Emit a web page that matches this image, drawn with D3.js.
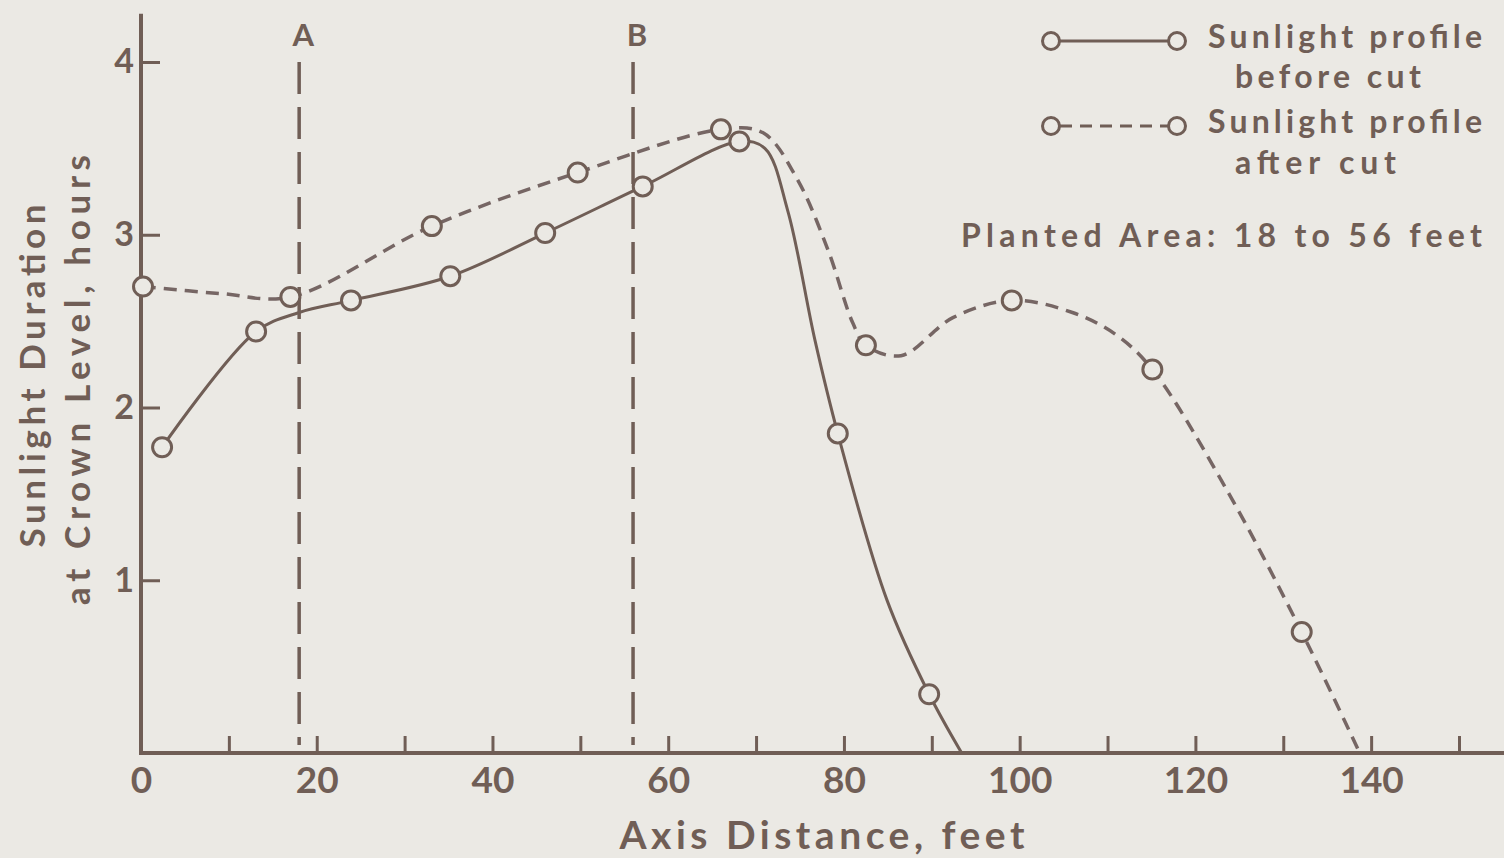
<!DOCTYPE html>
<html>
<head>
<meta charset="utf-8">
<script src="https://cdn.jsdelivr.net/npm/d3@7"></script>
<style>
  html, body { margin: 0; padding: 0; background: #ebe9e4; }
  svg { display: block; }
  text { font-family: Lato, "DejaVu Sans", sans-serif; font-weight: bold; fill: #705e56; }
</style>
</head>
<body>
<div id="chart"></div>
<script>
// values (feet, hours)
var xTickValues = [0, 10, 20, 30, 40, 50, 60, 70, 80, 90, 100, 110, 120, 130, 140, 150];
var xTickLabels = ["0", "", "20", "", "40", "", "60", "", "80", "", "100", "", "120", "", "140", ""];
var yTickValues = [1, 2, 3, 4];

// circles on the "before cut" profile
var beforeMarks = [[2.4, 1.77], [13.1, 2.44], [23.9, 2.62], [35.2, 2.76], [46.0, 3.01],
    [57.1, 3.28], [68.1, 3.54], [79.3, 1.85], [89.7, 0.34]];
// the drawn curve
var beforeCurve = [[2.4, 1.77], [13.1, 2.44], [18, 2.55], [23.9, 2.62], [35.2, 2.76], [46.0, 3.01],
    [57.1, 3.28], [68.1, 3.54], [71.0, 3.50], [73.6, 3.14], [76.7, 2.39], [79.3, 1.85],
    [84.9, 0.885], [89.7, 0.34], [93.4, 0]];

// circles on the "after cut" profile
var afterMarks = [[0.23, 2.70], [17.0, 2.64], [33.1, 3.05], [49.7, 3.36], [66.0, 3.61],
    [82.5, 2.36], [99.1, 2.62], [115.1, 2.22], [132.1, 0.70]];
var afterCurve = [[0.23, 2.70], [9.0, 2.66], [17.0, 2.64], [33.1, 3.05], [49.7, 3.36], [66.0, 3.61],
    [70.8, 3.59], [74.6, 3.33], [78.2, 2.91], [81.0, 2.49], [82.5, 2.36], [86.5, 2.30],
    [92.4, 2.52], [99.1, 2.62], [106.0, 2.55], [111.0, 2.42], [115.1, 2.22], [123.6, 1.52],
    [132.1, 0.70], [138.7, 0]];

// planted area limits
var markerLines = [{ x: 18, label: "A" }, { x: 56, label: "B" }];

var width = 1504, height = 858;
var ink = "#705e56", paper = "#ebe9e4";

var svg = d3.select("#chart").append("svg")
    .attr("width", width)
    .attr("height", height);

svg.append("rect").attr("width", width).attr("height", height).attr("fill", paper);

var xScale = d3.scaleLinear().domain([0, 150]).range([141, 1459]);
var yScale = d3.scaleLinear().domain([0, 4]).range([753, 62]);

// x axis, ticks point up into the plot
var xAxis = d3.axisBottom(xScale)
    .tickValues(xTickValues)
    .tickFormat(function(d, i) { return xTickLabels[i]; })
    .tickSizeInner(-17)
    .tickSizeOuter(0)
    .tickPadding(14);

var xAxisPlot = svg.append("g")
    .attr("transform", "translate(0," + yScale(0) + ")")
    .call(xAxis);
xAxisPlot.select(".domain").remove();
xAxisPlot.selectAll("line").attr("stroke", ink).attr("stroke-width", 3);
xAxisPlot.selectAll("text")
    .attr("font-size", 37)
    .attr("fill", ink)
    .attr("font-family", "Lato, sans-serif")
    .attr("font-weight", "bold");

// y axis, ticks point right
var yAxis = d3.axisLeft(yScale)
    .tickValues(yTickValues)
    .tickFormat(d3.format("d"))
    .tickSizeInner(-19)
    .tickSizeOuter(0)
    .tickPadding(7);

var yAxisPlot = svg.append("g")
    .attr("transform", "translate(" + xScale(0) + ",0)")
    .call(yAxis);
yAxisPlot.select(".domain").remove();
yAxisPlot.selectAll("line").attr("stroke", ink).attr("stroke-width", 3);
yAxisPlot.selectAll("text")
    .attr("font-size", 34)
    .attr("fill", ink)
    .attr("font-family", "Lato, sans-serif")
    .attr("font-weight", "bold");

// axis lines
svg.append("line")
    .attr("x1", xScale(0) - 2).attr("x2", xScale(155.6))
    .attr("y1", yScale(0)).attr("y2", yScale(0))
    .attr("stroke", ink).attr("stroke-width", 4);
svg.append("line")
    .attr("x1", xScale(0)).attr("x2", xScale(0))
    .attr("y1", yScale(4.28)).attr("y2", yScale(0) + 2)
    .attr("stroke", ink).attr("stroke-width", 4);

// A / B vertical dashed lines
markerLines.forEach(function(m) {
    svg.append("line")
        .attr("x1", xScale(m.x)).attr("x2", xScale(m.x))
        .attr("y1", yScale(4)).attr("y2", yScale(0) - 8)
        .attr("stroke", ink).attr("stroke-width", 3.5)
        .attr("stroke-dasharray", "32,13");
    svg.append("text")
        .attr("x", xScale(m.x) + 4).attr("y", 46)
        .attr("text-anchor", "middle")
        .attr("font-size", 31)
        .text(m.label);
});

var line = d3.line()
    .x(function(d) { return xScale(d[0]); })
    .y(function(d) { return yScale(d[1]); })
    .curve(d3.curveCatmullRom.alpha(0.5));

svg.append("path")
    .datum(afterCurve)
    .attr("d", line)
    .attr("fill", "none")
    .attr("stroke", "#766664")
    .attr("stroke-width", 3.5)
    .attr("stroke-dasharray", "13,8");

svg.append("path")
    .datum(beforeCurve)
    .attr("d", line)
    .attr("fill", "none")
    .attr("stroke", ink)
    .attr("stroke-width", 3);

function drawMarks(data) {
    svg.append("g").selectAll("circle")
        .data(data)
        .enter().append("circle")
        .attr("cx", function(d) { return xScale(d[0]); })
        .attr("cy", function(d) { return yScale(d[1]); })
        .attr("r", 9.5)
        .attr("fill", paper)
        .attr("stroke", ink)
        .attr("stroke-width", 3);
}
drawMarks(afterMarks);
drawMarks(beforeMarks);

// legend
var legend = svg.append("g");
function legendRow(y, dashed) {
    legend.append("line")
        .attr("x1", 1060).attr("x2", 1168)
        .attr("y1", y).attr("y2", y)
        .attr("stroke", ink).attr("stroke-width", 3)
        .attr("stroke-dasharray", dashed ? "12,8" : null);
    [1051, 1177].forEach(function(cx) {
        legend.append("circle")
            .attr("cx", cx).attr("cy", y).attr("r", 8.5)
            .attr("fill", paper).attr("stroke", ink).attr("stroke-width", 3);
    });
}
legendRow(41, false);
legendRow(126, true);

var legendText = [
    { t: "Sunlight profile", x: 1208, y: 48, len: 274 },
    { t: "before cut", x: 1235, y: 88, len: 186 },
    { t: "Sunlight profile", x: 1208, y: 133, len: 274 },
    { t: "after cut", x: 1235, y: 174, len: 161 },
    { t: "Planted Area: 18 to 56 feet", x: 961, y: 247, len: 521 }
];
legend.selectAll("text.leg")
    .data(legendText)
    .enter().append("text")
    .attr("class", "leg")
    .attr("x", function(d) { return d.x; })
    .attr("y", function(d) { return d.y; })
    .attr("font-size", 32)
    .attr("textLength", function(d) { return d.len; })
    .attr("lengthAdjust", "spacing")
    .text(function(d) { return d.t; });

// axis titles
svg.append("text")
    .attr("x", 822).attr("y", 849)
    .attr("text-anchor", "middle")
    .attr("font-size", 39)
    .attr("textLength", 405)
    .attr("lengthAdjust", "spacing")
    .text("Axis Distance, feet");

svg.append("text")
    .attr("transform", "translate(45,376) rotate(-90)")
    .attr("text-anchor", "middle")
    .attr("font-size", 35)
    .attr("textLength", 343)
    .attr("lengthAdjust", "spacing")
    .text("Sunlight Duration");

svg.append("text")
    .attr("transform", "translate(90,380) rotate(-90)")
    .attr("text-anchor", "middle")
    .attr("font-size", 35)
    .attr("textLength", 450)
    .attr("lengthAdjust", "spacing")
    .text("at Crown Level, hours");
</script>
</body>
</html>
